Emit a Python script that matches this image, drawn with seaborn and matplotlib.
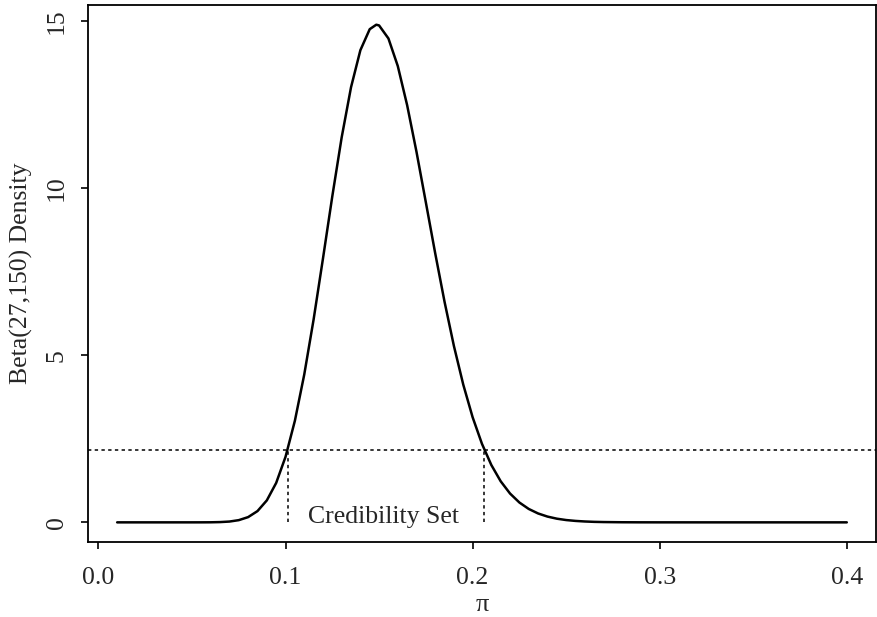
import matplotlib
matplotlib.use("Agg")
import matplotlib.pyplot as plt
import seaborn as sns
import pandas as pd

# Density curve
pi_vals = [0.01, 0.02, 0.03, 0.04, 0.05, 0.055, 0.06, 0.065, 0.07, 0.075,
           0.08, 0.085, 0.09, 0.095, 0.10, 0.105, 0.11, 0.115, 0.12, 0.125,
           0.13, 0.135, 0.14, 0.145, 0.1485, 0.15, 0.155, 0.16, 0.165, 0.17,
           0.175, 0.18, 0.185, 0.19, 0.195, 0.20, 0.205, 0.21, 0.215, 0.22,
           0.225, 0.23, 0.235, 0.24, 0.245, 0.25, 0.255, 0.26, 0.265, 0.27,
           0.28, 0.29, 0.30, 0.32, 0.35, 0.40]
density = [0.0, 0.0, 0.0, 0.0, 0.0001, 0.0005, 0.002, 0.008, 0.024, 0.066,
           0.157, 0.337, 0.658, 1.181, 1.963, 3.043, 4.426, 6.073, 7.896, 9.764,
           11.525, 13.026, 14.136, 14.766, 14.90, 14.878, 14.488, 13.662, 12.490, 11.093,
           9.580, 8.056, 6.602, 5.280, 4.123, 3.147, 2.350, 1.717, 1.230, 0.863,
           0.594, 0.401, 0.266, 0.173, 0.110, 0.069, 0.043, 0.026, 0.015, 0.009,
           0.003, 0.001, 0.0003, 0.0, 0.0, 0.0]

cutoff_level = 2.16
set_bounds = [0.1015, 0.2063]
set_label = "Credibility Set"
x_ticks = [0.0, 0.1, 0.2, 0.3, 0.4]
x_tick_labels = ["0.0", "0.1", "0.2", "0.3", "0.4"]
y_ticks = [0, 5, 10, 15]
y_tick_labels = ["0", "5", "10", "15"]

sns.set_style("ticks")
plt.rcParams['font.family'] = ['Liberation Serif', 'DejaVu Serif']

fig = plt.figure(figsize=(8.78, 6.17), dpi=100)
ax = fig.add_axes([0.1002, 0.1220, 0.8975, 0.8699])

df = pd.DataFrame({"pi": pi_vals, "density": density})
sns.lineplot(data=df, x="pi", y="density", ax=ax, color="black", linewidth=1.8)

ax.axhline(cutoff_level, color="black", linewidth=1.1, linestyle=(0, (2.2, 2.2)))
for b in set_bounds:
    ax.plot([b, b], [0, cutoff_level], color="black", linewidth=1.1,
            linestyle=(0, (2.2, 2.2)))

ax.text(sum(set_bounds) / 2 - 0.0015, -0.03, set_label, ha="center", va="baseline",
        fontsize=18.5)

ax.set_xlim(-0.0056, 0.4156)
ax.set_ylim(-0.58, 15.49)
ax.set_xticks(x_ticks)
ax.set_xticklabels(x_tick_labels, fontsize=18.5)
ax.set_yticks(y_ticks)
ax.set_yticklabels(y_tick_labels, fontsize=18.5, rotation=90, va="center")
ax.tick_params(axis="x", length=5, width=1.2, color="black", pad=13)
ax.tick_params(axis="y", length=5, width=1.2, color="black", pad=9.5)
ax.set_xlabel("π", fontsize=19, labelpad=4)
ax.set_ylabel("Beta(27,150) Density", fontsize=18.5, labelpad=9)
for s in ax.spines.values():
    s.set_visible(True)
    s.set_linewidth(1.3)
    s.set_color("black")

fig.savefig("out.png", dpi=100)
